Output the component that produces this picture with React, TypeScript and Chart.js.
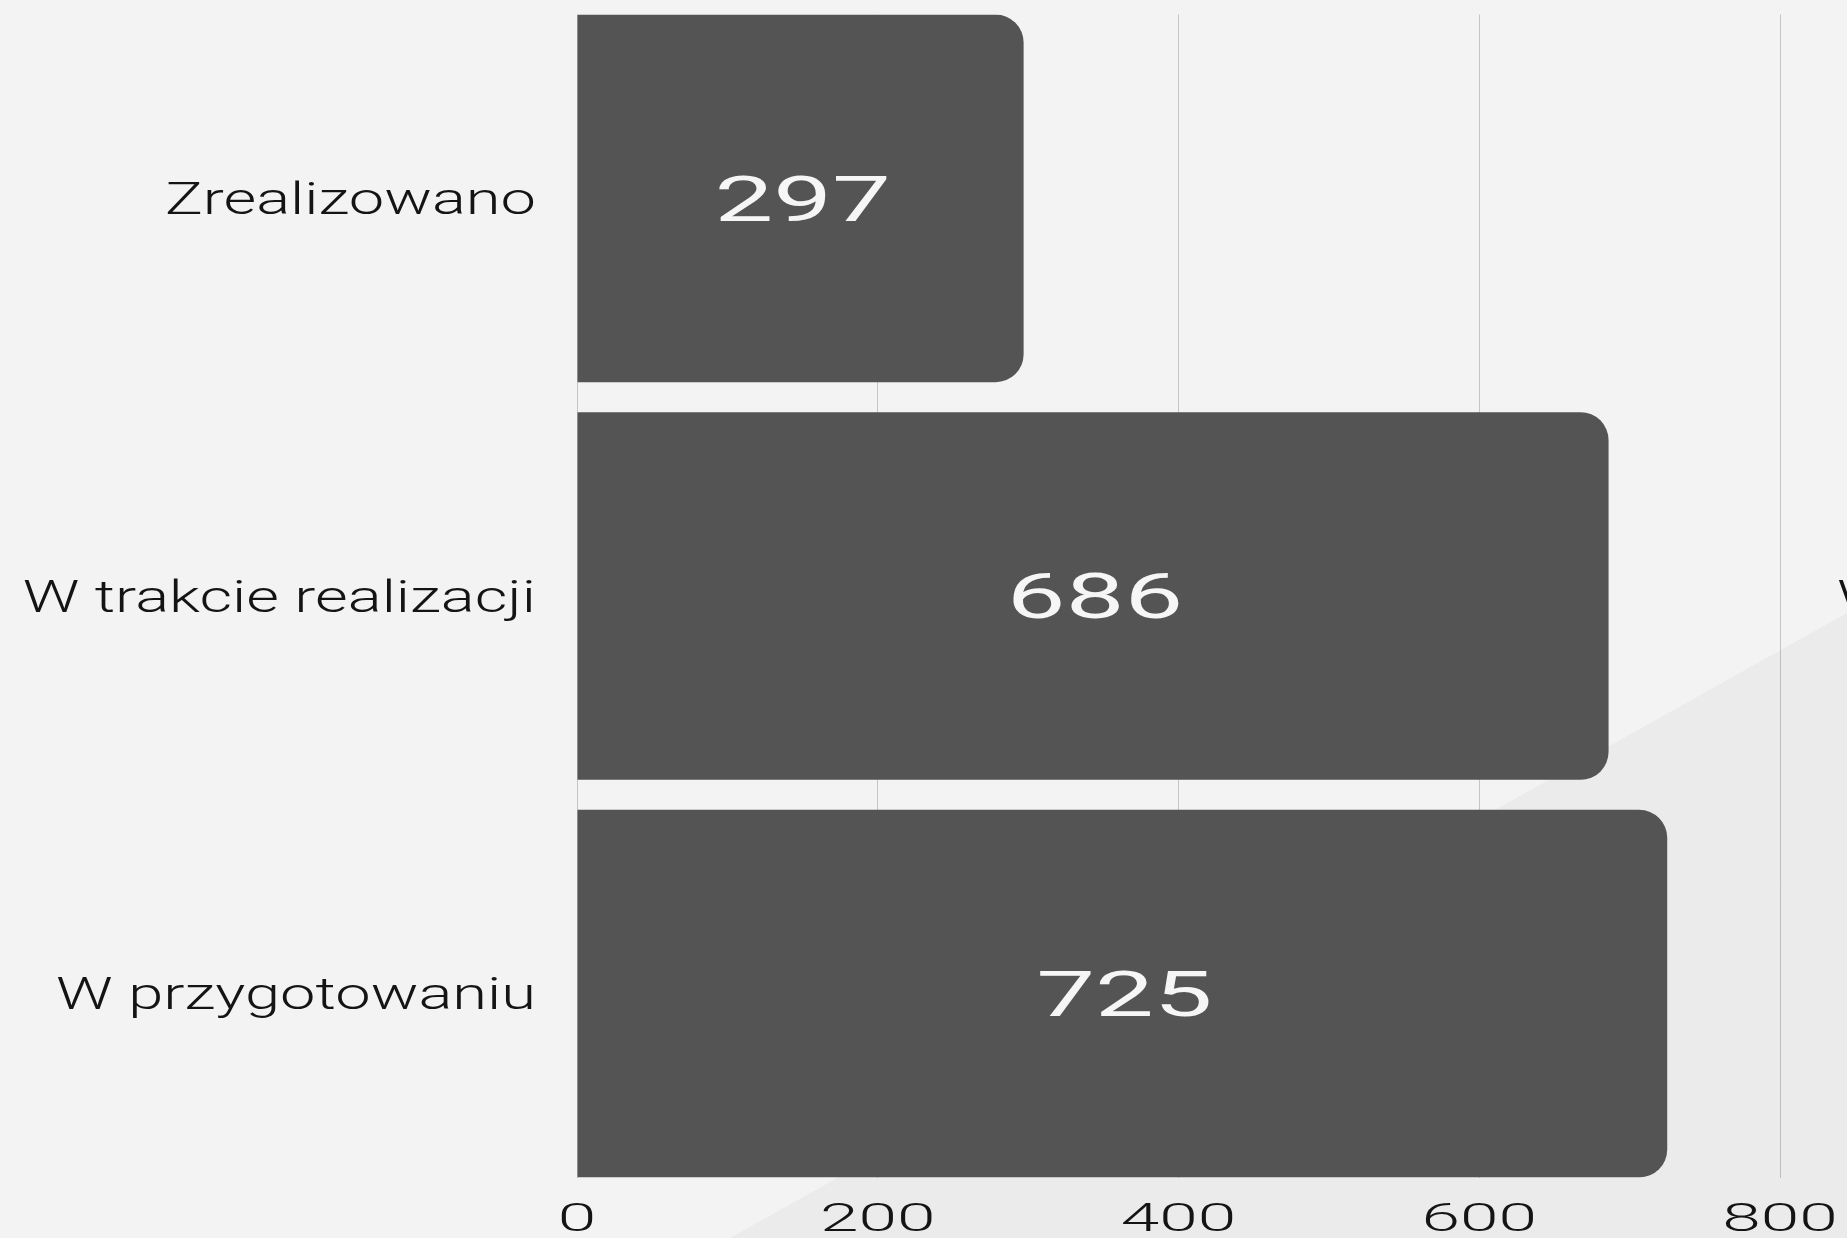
import React, { useEffect, useRef } from 'react';
import { Chart, registerables } from 'chart.js';

Chart.register(...registerables);

// ---- data ----
const categories = ['Zrealizowano', 'W trakcie realizacji', 'W przygotowaniu'];
const values = [297, 686, 725];
const seriesLabel = 'Wnioski';
const xTickValues = [0, 200, 400, 600, 800];

// ---- styles ----
const FONT_FAMILY = 'Roboto, "Liberation Sans", "DejaVu Sans", sans-serif';
const BG = '#f3f3f3';
const BG_SHADE = '#ebebeb';
const BAR = '#545454';
const GRID = 'rgba(0,0,0,0.19)';
const TEXT = '#141414';
const VALUE_TEXT = '#f6f6f6';
const BAR_FILL = 0.9246;

function drawStretched(
  ctx: CanvasRenderingContext2D,
  text: string,
  x: number,
  centerY: number,
  size: number,
  weight: string,
  color: string,
  sx: number,
  align: 'left' | 'center' | 'right'
) {
  ctx.save();
  ctx.font = `${weight} ${size}px ${FONT_FAMILY}`;
  ctx.fillStyle = color;
  ctx.textBaseline = 'alphabetic';
  ctx.textAlign = 'left';
  const w = ctx.measureText(text).width * sx;
  let left = x;
  if (align === 'center') left = x - w / 2;
  else if (align === 'right') left = x - w;
  ctx.translate(left, centerY + size * 0.711 / 2);
  ctx.scale(sx, 1);
  ctx.fillText(text, 0, 0);
  ctx.restore();
}

const backgroundPlugin = {
  id: 'bgShade',
  beforeDraw(chart: any) {
    const { ctx, width, height } = chart;
    ctx.save();
    ctx.fillStyle = BG;
    ctx.fillRect(0, 0, width, height);
    ctx.fillStyle = BG_SHADE;
    ctx.beginPath();
    ctx.moveTo(width * 0.3952, height);
    ctx.lineTo(width, height * 0.4952);
    ctx.lineTo(width, height);
    ctx.closePath();
    ctx.fill();
    ctx.restore();
  },
};

const textPlugin = {
  id: 'stretchedText',
  afterDraw(chart: any) {
    const { ctx, chartArea, scales } = chart;
    const yScale = scales.y;
    const xScale = scales.x;
    categories.forEach((c, i) => {
      const y = yScale.getPixelForValue(i);
      drawStretched(ctx, c, chartArea.left - 41, y, 44, '300', TEXT, 1.437, 'right');
    });
    xTickValues.forEach((v) => {
      const x = xScale.getPixelForValue(v);
      drawStretched(ctx, String(v), x, chartArea.bottom + 39.5, 39, '300', TEXT, 1.78, 'center');
    });
    const meta = chart.getDatasetMeta(0);
    meta.data.forEach((el: any, i: number) => {
      const cx = (el.x + el.base) / 2;
      drawStretched(ctx, String(values[i]), cx + 2, el.y, 63, '400', VALUE_TEXT, 1.66, 'center');
    });
    drawStretched(
      ctx,
      seriesLabel,
      chartArea.right + 57,
      (chartArea.top + chartArea.bottom) / 2,
      44,
      '300',
      TEXT,
      1.437,
      'left'
    );
  },
};

function BarChart() {
  const canvasRef = useRef<HTMLCanvasElement | null>(null);

  useEffect(() => {
    if (!canvasRef.current) return;
    const chart = new Chart(canvasRef.current, {
      type: 'bar',
      data: {
        datasets: [
          {
            label: seriesLabel,
            data: values.map((v, i) => ({ x: v, y: i })),
            backgroundColor: BAR,
            borderWidth: 0,
            borderRadius: 28,
            borderSkipped: 'start',
            categoryPercentage: BAR_FILL,
            barPercentage: 1,
          },
        ],
      },
      options: {
        indexAxis: 'y',
        animation: false,
        responsive: true,
        maintainAspectRatio: false,
        layout: { padding: { top: 14.5, right: 67, bottom: 0, left: 0 } },
        plugins: {
          legend: { display: false },
          tooltip: { enabled: false },
        },
        scales: {
          x: {
            type: 'linear',
            min: 0,
            max: 800,
            offset: false,
            ticks: { display: false, stepSize: 200 },
            grid: { color: GRID, lineWidth: 1, drawTicks: false, offset: false },
            border: { display: false },
            afterFit: (s: any) => {
              s.height = 60.5;
            },
          },
          y: {
            type: 'linear',
            reverse: true,
            offset: false,
            bounds: 'data',
            min: -BAR_FILL / 2,
            max: categories.length - 1 + BAR_FILL / 2,
            afterBuildTicks: (s: any) => {
              s.ticks = categories.map((_, i) => ({ value: i }));
            },
            ticks: { display: false },
            grid: { display: false, drawTicks: false, offset: false },
            border: { display: false },
            afterFit: (s: any) => {
              s.width = 577;
            },
          },
        },
      } as any,
      plugins: [backgroundPlugin, textPlugin],
    });
    return () => chart.destroy();
  }, []);

  return <canvas ref={canvasRef} style={{ width: '100%', height: '100%', display: 'block' }} />;
}

export default function App() {
  return (
    <div
      style={{
        position: 'fixed',
        left: 0,
        top: 0,
        width: '100vw',
        height: '100vh',
        overflow: 'hidden',
        background: BG,
      }}
    >
      <BarChart />
    </div>
  );
}
